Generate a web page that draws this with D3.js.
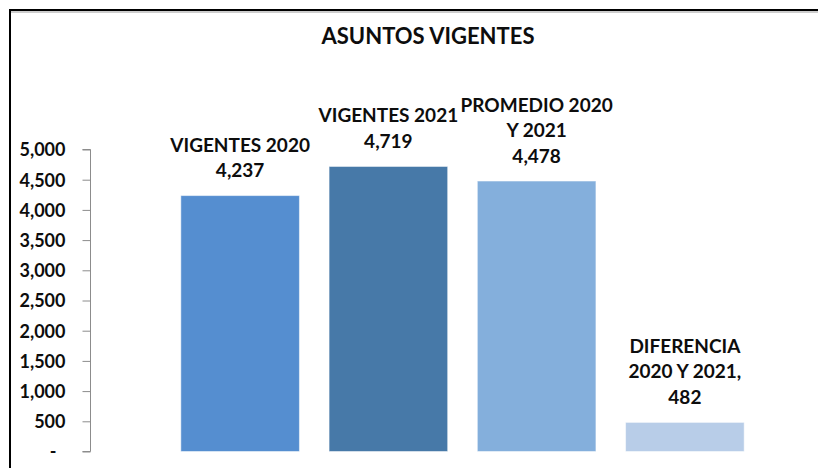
<!DOCTYPE html>
<html>
<head>
<meta charset="utf-8">
<script src="https://cdn.jsdelivr.net/npm/d3@7"></script>
<style>
	body { margin: 0; background: #fff; }
	text { font-family: Lato, "Open Sans", sans-serif; font-weight: bold; fill: #0d0d0d; }
	.axis-left path, .axis-left line { stroke: #8c8c8c; }
</style>
</head>
<body>
<svg id="chart"></svg>
<script>
// values
let categories = ['VIGENTES 2020', 'VIGENTES 2021', 'PROMEDIO 2020 Y 2021', 'DIFERENCIA 2020 Y 2021'];
let values = [4237, 4719, 4478, 482];
let labelLines = [
	['VIGENTES 2020', '4,237'],
	['VIGENTES 2021', '4,719'],
	['PROMEDIO 2020', 'Y 2021', '4,478'],
	['DIFERENCIA', '2020 Y 2021,', '482']
];
let barColors = ['#558ed0', '#4779a8', '#84afdc', '#b8cde8'];
let yTicks = [0, 500, 1000, 1500, 2000, 2500, 3000, 3500, 4000, 4500, 5000];

let width = 818, height = 468;

let chart = d3.select('#chart')
	.attr('width', width)
	.attr('height', height);

// frame (top and left edges visible)
chart.append('line')
	.attr('x1', 10).attr('x2', width)
	.attr('y1', 12).attr('y2', 12)
	.attr('stroke', '#bdbdbd').attr('stroke-width', 1.5);
chart.append('line')
	.attr('x1', 10).attr('x2', width)
	.attr('y1', 10).attr('y2', 10)
	.attr('stroke', '#000').attr('stroke-width', 2);
chart.append('line')
	.attr('x1', 10).attr('x2', 10)
	.attr('y1', 9).attr('y2', height)
	.attr('stroke', '#000').attr('stroke-width', 2);

// title
chart.append('text')
	.attr('x', 428)
	.attr('y', 44)
	.style('text-anchor', 'middle')
	.style('font-size', '22px')
	.text('ASUNTOS VIGENTES');

let xScale = d3.scaleBand()
	.domain(categories)
	.range([166, 759])
	.paddingInner(0.2)
	.paddingOuter(0.1);

let yScale = d3.scaleLinear()
	.domain([0, 5000])
	.range([451.5, 149.5]);

let yAxis = d3.axisLeft(yScale)
	.tickValues(yTicks)
	.tickSize(8)
	.tickPadding(17)
	.tickFormat(d => d === 0 ? '-' : d3.format(',')(d));

let yAxisGroup = chart.append('g')
	.attr('class', 'axis-left')
	.attr('transform', 'translate(90.5,0)')
	.call(yAxis);

yAxisGroup.select('.domain').attr('d', 'M-8,149.5H0V451.5H-8');
yAxisGroup.selectAll('text')
	.style('font-size', '18px')
	.style('font-family', 'Lato, sans-serif')
	.attr('fill', '#0d0d0d')
	.attr('dy', '0.36em');
yAxisGroup.selectAll('.tick')
	.filter(d => d === 0)
	.select('text')
	.attr('dx', -9);

// bars
chart.selectAll('rect.bar')
	.data(values)
	.enter()
	.append('rect')
	.attr('class', 'bar')
	.attr('x', (d, i) => xScale(categories[i]))
	.attr('y', d => yScale(d))
	.attr('width', xScale.bandwidth())
	.attr('height', d => yScale(0) - yScale(d))
	.attr('fill', (d, i) => barColors[i])
	.attr('stroke', 'rgba(255,255,255,0.5)')
	.attr('stroke-width', 1);

// data labels
let lineGap = 25.5;
let labels = chart.selectAll('text.dlabel')
	.data(values)
	.enter()
	.append('text')
	.attr('class', 'dlabel')
	.style('text-anchor', 'middle')
	.style('font-size', '19px');

labels.each(function(d, i) {
	let lines = labelLines[i];
	let cx = xScale(categories[i]) + xScale.bandwidth() / 2;
	let lastY = yScale(d) - 18.5;
	d3.select(this).selectAll('tspan')
		.data(lines)
		.enter()
		.append('tspan')
		.attr('x', cx)
		.attr('y', (t, k) => lastY - (lines.length - 1 - k) * lineGap)
		.text(t => t);
});
</script>
</body>
</html>
